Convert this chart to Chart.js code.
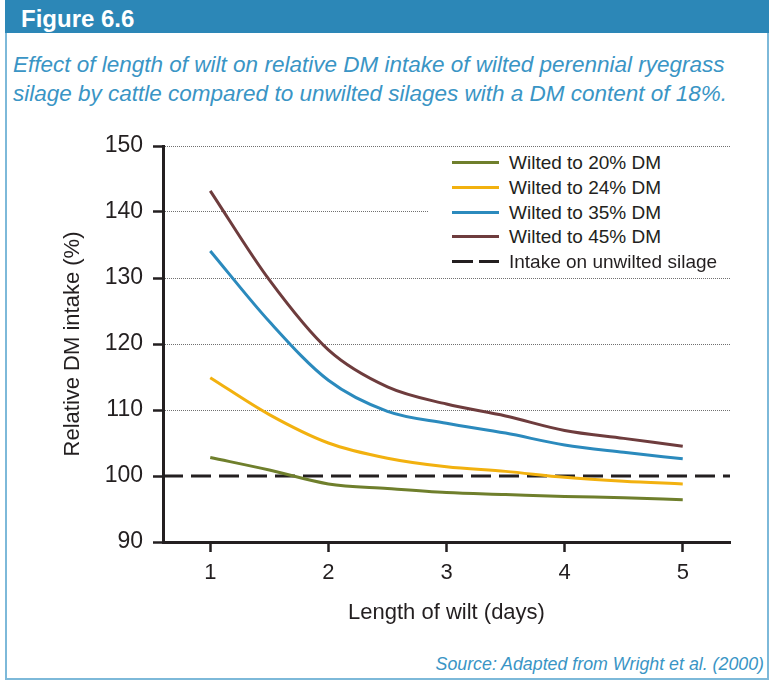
<!DOCTYPE html>
<html lang="en">
<head>
<meta charset="UTF-8">
<title>Figure 6.6</title>
<script src="https://cdn.jsdelivr.net/npm/chart.js"></script>
<style>
    body { margin: 0; background: #fff; font-family: "Liberation Sans", Arial, sans-serif; }
    .frame { position: absolute; left: 5px; top: 0; width: 760px; height: 678px; border: 2px solid #7db9d9; border-top: none; }
    .bar { position: absolute; left: 5px; top: 0; width: 764px; height: 31px; padding-top: 2px; background: #2c87b7; }
    .bar span { display: block; margin-left: 16px; color: #fff; font-weight: bold; font-size: 24px; line-height: 33px; }
    .caption { position: absolute; left: 13px; top: 50px; font-style: italic; font-size: 22.5px; line-height: 29px; color: #3a95c5; white-space: nowrap; }
    .source { position: absolute; right: 7px; top: 654px; font-style: italic; font-size: 17.8px; line-height: 20px; color: #3a95c5; white-space: nowrap; }
    .chartbox { position: absolute; left: 0; top: 120px; width: 771px; height: 530px; }
    #legend { position: absolute; left: 428px; top: 149px; width: 305px; height: 124px; background: #fff; }
    .item { position: absolute; left: 0; height: 24px; width: 305px; }
    .item .swatch { position: absolute; left: 24px; top: 10px; width: 47px; height: 3px; }
    .item .label { position: absolute; left: 81px; top: 0; font-size: 19px; line-height: 24px; color: #231f20; white-space: nowrap; }
</style>
</head>
<body>
    <div class="frame"></div>
    <div class="bar"><span>Figure 6.6</span></div>
    <div class="caption">Effect of length of wilt on relative DM intake of wilted perennial ryegrass<br>silage by cattle compared to unwilted silages with a DM content of 18%.</div>
    <div class="chartbox"><canvas id="myChart"></canvas></div>
    <div id="legend"></div>
    <div class="source">Source: Adapted from Wright et al. (2000)</div>
    <script>
        // values
        var days = [1, 1.5, 2, 2.5, 3, 3.5, 4, 4.5, 5];
        var wilted20 = [102.8, 100.9, 98.8, 98.1, 97.5, 97.2, 96.9, 96.7, 96.4];
        var wilted24 = [114.9, 109.3, 105.0, 102.7, 101.4, 100.7, 99.8, 99.2, 98.8];
        var wilted35 = [134.1, 123.4, 114.5, 109.8, 108.0, 106.5, 104.7, 103.6, 102.6];
        var wilted45 = [143.2, 129.7, 119.1, 113.5, 110.9, 109.1, 106.9, 105.7, 104.5];
        var unwiltedDays = [0.6, 5.4];
        var unwiltedIntake = [100, 100];

        var seriesNames = ['Wilted to 20% DM', 'Wilted to 24% DM', 'Wilted to 35% DM', 'Wilted to 45% DM', 'Intake on unwilted silage'];
        var seriesColors = ['#6f7f2c', '#f2b10f', '#2b8abd', '#6e3c3d', '#231f20'];
        var dayTicks = [1, 2, 3, 4, 5];
        var intakeTicks = [90, 100, 110, 120, 130, 140, 150];

        var ink = '#231f20';

        function points(xs, ys) {
            return xs.map(function (x, i) { return { x: x, y: ys[i] }; });
        }

        var series = [wilted20, wilted24, wilted35, wilted45];
        var datasets = series.map(function (vals, i) {
            return {
                label: seriesNames[i],
                data: points(days, vals),
                borderColor: seriesColors[i],
                borderWidth: 3,
                pointRadius: 0,
                cubicInterpolationMode: 'monotone'
            };
        });
        datasets.push({
            label: seriesNames[4],
            data: points(unwiltedDays, unwiltedIntake),
            borderColor: seriesColors[4],
            borderWidth: 3,
            borderDash: [20, 8],
            pointRadius: 0
        });

        var myChart = new Chart(document.getElementById('myChart'), {
            type: 'line',
            data: { datasets: datasets },
            options: {
                responsive: true,
                maintainAspectRatio: false,
                animation: false,
                layout: { padding: { left: 55, right: 41, top: 26, bottom: 24 } },
                plugins: { legend: { display: false }, tooltip: { enabled: false } },
                scales: {
                    x: {
                        type: 'linear',
                        min: unwiltedDays[0],
                        max: unwiltedDays[1],
                        afterBuildTicks: function (s) { s.ticks = dayTicks.map(function (v) { return { value: v }; }); },
                        afterFit: function (s) { s.height = 84; },
                        grid: { drawOnChartArea: false, tickLength: 10, tickColor: ink, tickWidth: 2.5 },
                        border: { color: ink, width: 3 },
                        ticks: { color: ink, padding: 8, font: { family: 'Liberation Sans', size: 22 } },
                        title: { display: true, text: 'Length of wilt (days)', color: ink, padding: { top: 0, bottom: 0 }, font: { family: 'Liberation Sans', size: 22 } }
                    },
                    y: {
                        min: intakeTicks[0],
                        max: intakeTicks[intakeTicks.length - 1],
                        afterBuildTicks: function (s) { s.ticks = intakeTicks.map(function (v) { return { value: v }; }); },
                        afterFit: function (s) { s.width = 108; },
                        grid: {
                            color: function (c) { return (c.tick && c.tick.value > 100) ? '#707070' : 'rgba(0,0,0,0)'; },
                            lineWidth: 1,
                            tickLength: 10,
                            tickColor: ink,
                            tickWidth: 2.5,
                            tickBorderDash: []
                        },
                        border: { color: ink, width: 3, dash: [1, 1] },
                        ticks: { color: ink, padding: 10, font: { family: 'Liberation Sans', size: 23 } },
                        title: { display: true, text: 'Relative DM intake (%)', color: ink, padding: { top: 5, bottom: 5 }, font: { family: 'Liberation Sans', size: 22 } }
                    }
                }
            }
        });

        // legend box (white, sits over the 140 grid line)
        var legend = document.getElementById('legend');
        myChart.data.datasets.forEach(function (ds, i) {
            var row = document.createElement('div');
            row.className = 'item';
            row.style.top = (2 + i * 24.8) + 'px';
            var sw = document.createElement('div');
            sw.className = 'swatch';
            if (ds.borderDash) {
                sw.style.background = 'linear-gradient(to right, ' + ds.borderColor + ' 0 21px, transparent 21px 27px, ' + ds.borderColor + ' 27px 47px)';
            } else {
                sw.style.background = ds.borderColor;
            }
            var lb = document.createElement('div');
            lb.className = 'label';
            lb.textContent = ds.label;
            row.appendChild(sw);
            row.appendChild(lb);
            legend.appendChild(row);
        });
    </script>
</body>
</html>
